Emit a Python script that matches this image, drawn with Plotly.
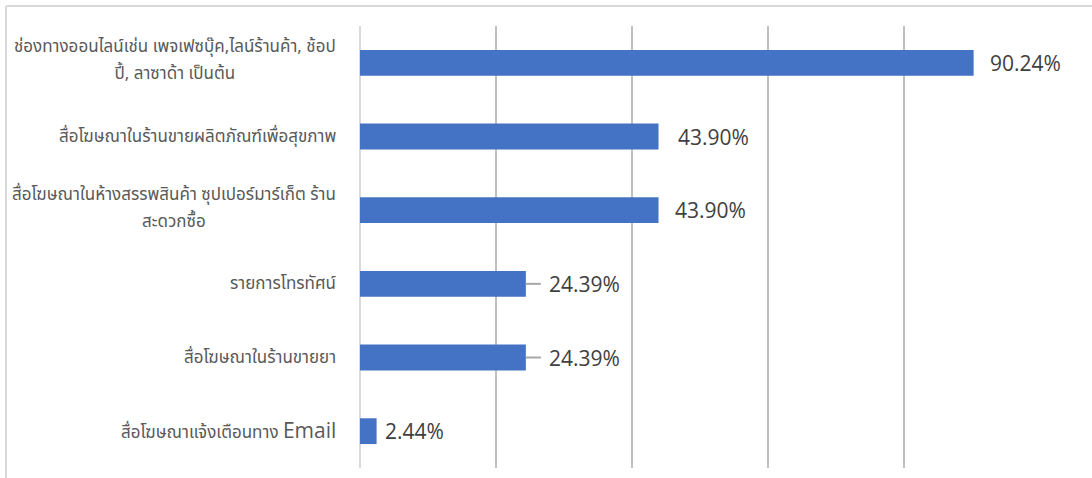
import plotly.graph_objects as go

categories = [
    "ช่องทางออนไลน์เช่น เพจเฟซบุ๊ค,ไลน์ร้านค้า, ช้อป<br>ปี้, ลาซาด้า เป็นต้น",
    "สื่อโฆษณาในร้านขายผลิตภัณฑ์เพื่อสุขภาพ",
    "สื่อโฆษณาในห้างสรรพสินค้า ซุปเปอร์มาร์เก็ต ร้าน<br>สะดวกซื้อ",
    "รายการโทรทัศน์",
    "สื่อโฆษณาในร้านขายยา",
    "สื่อโฆษณาแจ้งเตือนทาง Email",
]
values = [90.24, 43.90, 43.90, 24.39, 24.39, 2.44]
tick_values = [0, 20, 40, 60, 80, 100]

# style: pixel gap between bar end and its label, and leader line flags
label_gap_px = [15, 18, 15, 22, 22, 7]
leader = [False, False, False, True, True, False]

W, H = 1092, 478
ML, MR, MT, MB = 360, 52, 26, 10
PW, PH = W - ML - MR, H - MT - MB

BAR = "#4472C4"
THAI_FONT = "Noto Sans Thai, Tahoma, Leelawadee UI, sans-serif"


def styled(label):
    lines = []
    for ln in label.split("<br>"):
        if "Email" in ln:
            head = ln.replace("Email", "")
            lines.append(f"<span style='font-size:17px'>{head}</span>"
                         f"<span style='font-size:21px;font-family:Open Sans'>Email</span>")
        else:
            lines.append(f"<span style='font-size:17px'>{ln}</span>")
    return "<br>".join(lines)


fig = go.Figure()
fig.add_trace(go.Bar(
    x=values, y=list(range(len(values))), orientation="h",
    marker=dict(color=BAR, line=dict(width=0)), width=0.35,
    hoverinfo="skip",
))

annotations = []
shapes = []
for i, (c, v) in enumerate(zip(categories, values)):
    multi = "<br>" in c
    annotations.append(dict(
        x=0, xref="paper", y=i, yref="y", text=styled(c), showarrow=False,
        xanchor="right", yanchor="middle", align="center", xshift=-22,
        yshift=2 if multi else 0,
        font=dict(family=THAI_FONT, size=21, color="#595959"),
    ))
    annotations.append(dict(
        x=v, xref="x", y=i, yref="y", text=f"{v:.2f}%", showarrow=False,
        xanchor="left", yanchor="middle", xshift=label_gap_px[i] - 1,
        font=dict(family="Open Sans", size=21, color="#404040"),
    ))
    if leader[i]:
        shapes.append(dict(
            type="line", xref="x", yref="y", x0=v, x1=v + (label_gap_px[i] - 7) * 100 / PW,
            y0=i, y1=i, line=dict(color="#A6A6A6", width=2),
        ))

# outer chart frame (top and left edges visible)
fx0 = (6 - ML) / PW
fy1 = (H - 6 - MB) / PH
shapes.append(dict(type="line", xref="paper", yref="paper", x0=fx0, x1=(W + 10 - ML) / PW,
                   y0=fy1, y1=fy1, line=dict(color="#D9D9D9", width=2)))
shapes.append(dict(type="line", xref="paper", yref="paper", x0=fx0, x1=fx0,
                   y0=-MB / PH - 0.05, y1=fy1, line=dict(color="#D9D9D9", width=2)))

fig.update_layout(
    width=W, height=H,
    margin=dict(l=ML, r=MR, t=MT, b=MB),
    paper_bgcolor="white", plot_bgcolor="white",
    showlegend=False,
    bargap=0.65,
    xaxis=dict(range=[0, 100], tickvals=tick_values, showticklabels=False,
               showgrid=True, gridcolor="#C0C0C0", gridwidth=2,
               zeroline=True, zerolinecolor="#D9D9D9", zerolinewidth=2,
               showline=False, fixedrange=True),
    yaxis=dict(range=[len(values) - 0.5, -0.5], showticklabels=False,
               showgrid=False, zeroline=False, showline=False, fixedrange=True),
    annotations=annotations,
    shapes=shapes,
)

fig.write_html("out.html")
